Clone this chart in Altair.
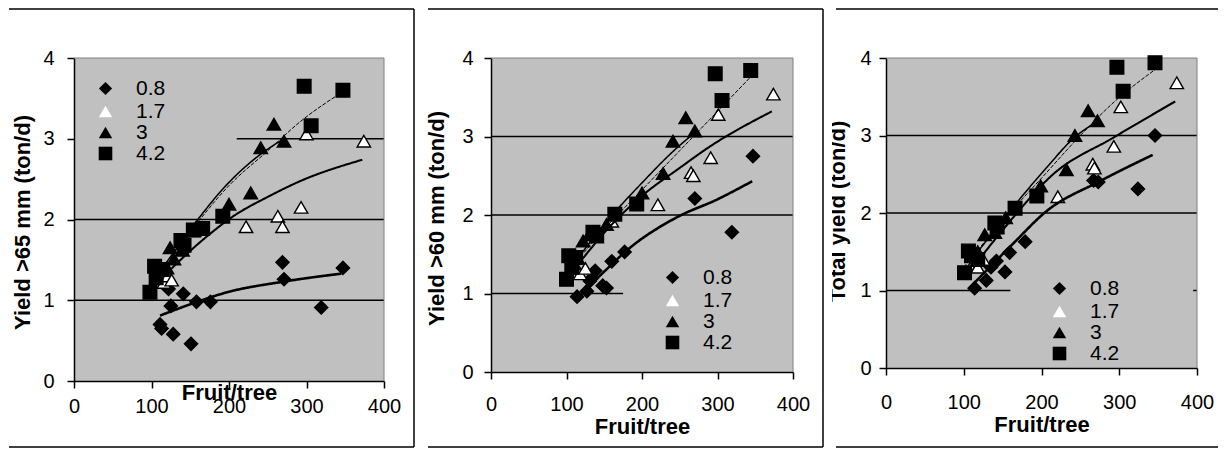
import altair as alt
import pandas as pd

FONT = "Liberation Sans, Arial, sans-serif"
SERIES = ["0.8", "1.7", "3", "4.2"]
SHAPES = ["diamond", "triangle-up", "triangle-up", "square"]
FILLS = ["black", "white", "black", "black"]
SIZES = [175, 185, 185, 120]
X_TICKS = [0, 100, 200, 300, 400]
Y_TICKS = [0, 1, 2, 3, 4]
X_TITLE = "Fruit/tree"
Y_TITLES = ["Yield >65 mm (ton/d)", "Yield >60 mm (ton/d)", "Total yield (ton/d)"]

# ---------------- Panel 1: Yield >65 mm ----------------
P1_08_X = [111, 113, 128, 151, 122, 125, 141, 158, 176, 269, 271, 319, 347]
P1_08_Y = [0.70, 0.65, 0.58, 0.46, 1.14, 0.93, 1.08, 0.98, 0.98, 1.47, 1.26, 0.91, 1.40]
P1_17_X = [116, 121, 126, 222, 263, 269, 293, 300, 374]
P1_17_Y = [1.22, 1.30, 1.25, 1.91, 2.04, 1.91, 2.15, 3.06, 2.97]
P1_3_X = [120, 124, 129, 140, 155, 200, 228, 241, 258, 271]
P1_3_Y = [1.40, 1.65, 1.51, 1.62, 1.86, 2.19, 2.33, 2.89, 3.18, 2.97]
P1_42_X = [98, 104, 106, 114, 138, 142, 154, 166, 192, 297, 306, 347]
P1_42_Y = [1.10, 1.42, 1.28, 1.38, 1.74, 1.68, 1.87, 1.89, 2.04, 3.65, 3.16, 3.60]
# trend lines
P1_C08_X = [111, 150, 198, 270, 345]
P1_C08_Y = [0.81, 0.95, 1.10, 1.23, 1.33]
P1_C17_X = [118, 164, 207, 250, 293, 372]
P1_C17_Y = [1.32, 1.73, 2.05, 2.28, 2.48, 2.74]
P1_C3_X = [118, 155, 198, 241, 271]
P1_C3_Y = [1.45, 1.94, 2.44, 2.81, 3.00]
P1_C42_X = [100, 150, 200, 250, 293, 345]
P1_C42_Y = [1.22, 1.85, 2.42, 2.85, 3.22, 3.57]

# ---------------- Panel 2: Yield >60 mm ----------------
P2_08_X = [114, 127, 131, 134, 138, 148, 153, 160, 177, 270, 319, 347]
P2_08_Y = [0.96, 1.03, 1.16, 1.20, 1.29, 1.10, 1.07, 1.41, 1.53, 2.21, 1.78, 2.75]
P2_17_X = [112, 118, 125, 160, 221, 265, 268, 291, 301, 374]
P2_17_Y = [1.35, 1.25, 1.32, 1.92, 2.13, 2.54, 2.50, 2.73, 3.28, 3.54]
P2_3_X = [115, 122, 130, 140, 153, 200, 228, 241, 258, 270]
P2_3_Y = [1.45, 1.67, 1.75, 1.72, 1.88, 2.28, 2.53, 2.94, 3.24, 3.07]
P2_42_X = [100, 103, 107, 112, 135, 140, 164, 193, 297, 306, 344]
P2_42_Y = [1.18, 1.48, 1.33, 1.46, 1.78, 1.75, 2.01, 2.14, 3.80, 3.46, 3.84]
P2_C08_X = [118, 150, 180, 246, 300, 346]
P2_C08_Y = [0.98, 1.28, 1.55, 1.97, 2.20, 2.43]
P2_C17_X = [112, 160, 202, 250, 288, 372]
P2_C17_Y = [1.33, 1.88, 2.26, 2.60, 2.86, 3.32]
P2_C3_X = [115, 158, 202, 240, 270]
P2_C3_Y = [1.45, 1.97, 2.43, 2.80, 3.05]
P2_C42_X = [100, 150, 200, 250, 290, 343]
P2_C42_Y = [1.25, 1.82, 2.32, 2.82, 3.22, 3.75]

# ---------------- Panel 3: Total yield ----------------
P3_08_X = [114, 129, 135, 142, 153, 159, 179, 267, 273, 324, 346]
P3_08_Y = [1.03, 1.13, 1.30, 1.38, 1.24, 1.49, 1.63, 2.42, 2.40, 2.31, 3.00]
P3_17_X = [112, 118, 125, 221, 266, 268, 293, 302, 374]
P3_17_Y = [1.35, 1.30, 1.40, 2.21, 2.63, 2.58, 2.86, 3.37, 3.68]
P3_3_X = [118, 127, 140, 154, 199, 232, 243, 260, 272]
P3_3_Y = [1.50, 1.72, 1.75, 1.94, 2.35, 2.56, 3.00, 3.32, 3.19]
P3_42_X = [101, 106, 110, 118, 140, 143, 166, 194, 297, 305, 346]
P3_42_Y = [1.23, 1.51, 1.45, 1.40, 1.87, 1.82, 2.06, 2.22, 3.88, 3.57, 3.94]
P3_C08_X = [112, 163, 206, 275, 343]
P3_C08_Y = [1.08, 1.60, 2.02, 2.41, 2.75]
P3_C17_X = [112, 160, 215, 292, 372]
P3_C17_Y = [1.30, 1.90, 2.50, 2.97, 3.44]
P3_C3_X = [112, 163, 206, 243, 272]
P3_C3_Y = [1.42, 2.07, 2.58, 2.98, 3.18]
P3_C42_X = [100, 150, 200, 250, 292, 346]
P3_C42_Y = [1.30, 1.90, 2.45, 3.00, 3.42, 3.85]

# visible parts of the horizontal gridlines (y, from, to) - the rest is hidden by the legend box
P1_GRID = [(1, 0, 400), (2, 0, 400), (3, 210, 400)]
P2_GRID = [(1, 0, 175), (2, 0, 400), (3, 0, 400)]
P3_GRID = [(1, 0, 160), (1, 395, 400), (2, 0, 400), (3, 0, 400)]

# layout (pixels, relative to each plot area)
LAYOUT = [
    dict(w=310, h=323, xpad=8, ypad=13, xty=18, ytx=-45, yty=164, lx=21, ly=20,
         fl=-65, fr=340, right=True, bl=-65, br=345, cover=None),
    dict(w=302, h=314, xpad=15, ypad=11, xty=61, ytx=-48, yty=160, lx=171, ly=209,
         fl=-63, fr=332, right=True, bl=-72, br=333, cover=None),
    dict(w=311, h=310, xpad=17, ypad=8, xty=63, ytx=-42, yty=153, lx=163, ly=220,
         fl=-50, fr=332, right=False, bl=-62, br=332, cover=(-61, -54)),
]
FRAME_TOP = -49
FRAME_BOTTOM = 389


def pts_df(groups):
    rows = []
    for s, (xs, ys) in zip(SERIES, groups):
        for x, y in zip(xs, ys):
            rows.append({"series": s, "x": x, "y": y})
    return pd.DataFrame(rows)


PANELS = [
    (pts_df([(P1_08_X, P1_08_Y), (P1_17_X, P1_17_Y), (P1_3_X, P1_3_Y), (P1_42_X, P1_42_Y)]),
     pts_df([(P1_C08_X, P1_C08_Y), (P1_C17_X, P1_C17_Y), (P1_C3_X, P1_C3_Y), (P1_C42_X, P1_C42_Y)]),
     P1_GRID),
    (pts_df([(P2_08_X, P2_08_Y), (P2_17_X, P2_17_Y), (P2_3_X, P2_3_Y), (P2_42_X, P2_42_Y)]),
     pts_df([(P2_C08_X, P2_C08_Y), (P2_C17_X, P2_C17_Y), (P2_C3_X, P2_C3_Y), (P2_C42_X, P2_C42_Y)]),
     P2_GRID),
    (pts_df([(P3_08_X, P3_08_Y), (P3_17_X, P3_17_Y), (P3_3_X, P3_3_Y), (P3_42_X, P3_42_Y)]),
     pts_df([(P3_C08_X, P3_C08_Y), (P3_C17_X, P3_C17_Y), (P3_C3_X, P3_C3_Y), (P3_C42_X, P3_C42_Y)]),
     P3_GRID),
]

DUMMY = pd.DataFrame({"d": [0]})


def make_panel(i):
    pts, cur, grid = PANELS[i]
    L = LAYOUT[i]
    xs = alt.Scale(domain=[0, 400], nice=False, zero=False)
    ys = alt.Scale(domain=[0, 4], nice=False)
    xax = alt.Axis(values=X_TICKS, title=X_TITLE, grid=False, format="d", labelFlush=False,
                   labelPadding=L["xpad"], titleY=L["xty"], titleBaseline="alphabetic")
    yax = alt.Axis(values=Y_TICKS, title=Y_TITLES[i], grid=False, format="d",
                   labelPadding=L["ypad"], titleX=L["ytx"], titleY=L["yty"],
                   titleBaseline="alphabetic", titleAlign="center")
    X = alt.X("x:Q", scale=xs, axis=xax)
    Y = alt.Y("y:Q", scale=ys, axis=yax)

    gdf = pd.DataFrame(grid, columns=["y", "x", "x2"])
    g = alt.Chart(gdf).mark_rule(color="black", strokeWidth=1.5).encode(x=X, x2="x2:Q", y=Y)

    border_top = alt.Chart(DUMMY).mark_rule(color="#808080", strokeWidth=1).encode(
        x=alt.value(0), x2=alt.value(L["w"]), y=alt.value(0))
    border_right = alt.Chart(DUMMY).mark_rule(color="#808080", strokeWidth=1).encode(
        x=alt.value(L["w"]), y=alt.value(0), y2=alt.value(L["h"]))

    leg = alt.Legend(title=None, orient="none", legendX=L["lx"], legendY=L["ly"],
                     labelFontSize=21, labelFont=FONT, labelColor="black",
                     rowPadding=-4, labelOffset=20, padding=0,
                     symbolStrokeColor="black", symbolStrokeWidth=1.4)
    p = alt.Chart(pts).mark_point(filled=True, stroke="black", strokeWidth=1.4,
                                  opacity=1, fillOpacity=1).encode(
        x=X, y=Y,
        shape=alt.Shape("series:N", scale=alt.Scale(domain=SERIES, range=SHAPES), legend=leg),
        fill=alt.Fill("series:N", scale=alt.Scale(domain=SERIES, range=FILLS), legend=leg),
        size=alt.Size("series:N", scale=alt.Scale(domain=SERIES, range=SIZES), legend=leg),
    )

    c = alt.Chart(cur).mark_line(color="black", interpolate="monotone").encode(
        x=X, y=Y, detail="series:N",
        strokeWidth=alt.StrokeWidth("series:N", scale=alt.Scale(domain=SERIES, range=[2.6, 1, 2.6, 1]),
                                    legend=None),
        strokeDash=alt.StrokeDash("series:N",
                                  scale=alt.Scale(domain=SERIES, range=[[1, 0], [1, 0], [1, 0], [4, 1.5]]),
                                  legend=None),
    )

    layers = [g, border_top, border_right, p, c]

    frame = [
        alt.Chart(DUMMY).mark_rule(color="black", strokeWidth=1.5).encode(
            x=alt.value(L["fl"]), x2=alt.value(L["fr"]), y=alt.value(FRAME_TOP)),
        alt.Chart(DUMMY).mark_rule(color="black", strokeWidth=1.5).encode(
            x=alt.value(L["fl"]), x2=alt.value(L["fr"]), y=alt.value(FRAME_BOTTOM)),
    ]
    if L["right"]:
        frame.append(alt.Chart(DUMMY).mark_rule(color="black", strokeWidth=1.5).encode(
            x=alt.value(L["fr"]), y=alt.value(FRAME_TOP), y2=alt.value(FRAME_BOTTOM)))
    layers += frame
    if L["cover"] is not None:
        layers.append(alt.Chart(DUMMY).mark_rect(color="white").encode(
            x=alt.value(L["cover"][0]), x2=alt.value(L["cover"][1]),
            y=alt.value(20), y2=alt.value(300)))
    layers.append(alt.Chart(DUMMY).mark_rule(strokeOpacity=0, strokeWidth=1).encode(
        x=alt.value(L["bl"]), x2=alt.value(L["br"]), y=alt.value(0)))

    return alt.layer(*layers).properties(width=L["w"], height=L["h"])


chart = alt.hconcat(make_panel(0), make_panel(1), make_panel(2), spacing=0).resolve_scale(
    x="independent", y="independent", shape="independent", fill="independent",
    size="independent", strokeWidth="independent", strokeDash="independent",
).resolve_legend(shape="independent", fill="independent", size="independent").properties(
    padding=0, background="white"
).configure_view(fill="#c0c0c0", strokeWidth=0).configure_axis(
    domainColor="black", domainWidth=1.5, tickColor="black", tickWidth=1.5, tickSize=7,
    labelFont=FONT, labelFontSize=20, labelColor="black",
    titleFont=FONT, titleFontSize=22, titleFontWeight="bold", titleColor="black",
)

chart.save("out.html", embed_options={"renderer": "svg", "actions": False})
